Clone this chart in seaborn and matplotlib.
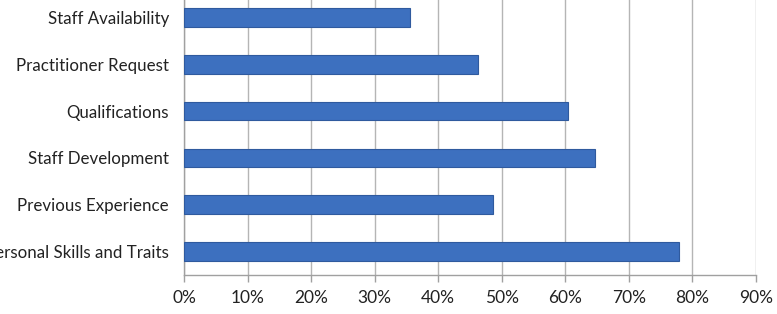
import matplotlib
matplotlib.use("Agg")
import matplotlib.pyplot as plt
import seaborn as sns
import pandas as pd
from matplotlib.ticker import FuncFormatter, FixedLocator

categories = ["Staff Availability", "Practitioner Request", "Qualifications",
              "Staff Development", "Previous Experience", "Personal Skills and Traits"]
values = [35.5, 46.3, 60.4, 64.7, 48.7, 77.9]
x_ticks = [0, 10, 20, 30, 40, 50, 60, 70, 80, 90]

sns.set_style("white")
plt.rcParams['font.family'] = ['Lato', 'DejaVu Sans']

df = pd.DataFrame({"category": categories, "value": values})

fig = plt.figure(figsize=(7.77, 3.14), dpi=100)
ax = fig.add_axes([184.3/777, 1 - 275/314, (755.7-184.3)/777, 281/314])

sns.barplot(data=df, y="category", x="value", orient="h", ax=ax,
            color="#3d70bf", width=0.4, edgecolor="#2f5a9e", linewidth=0.8,
            saturation=1, zorder=3)

ax.set_xlim(0, 90)
ax.set_ylim(5.5, -0.5)
ax.xaxis.set_major_locator(FixedLocator(x_ticks))
ax.xaxis.set_major_formatter(FuncFormatter(lambda v, p: f"{int(v)}%"))
ax.grid(axis="x", color="#b5b5b5", linewidth=1, zorder=0)
ax.grid(axis="y", visible=False)
ax.set_axisbelow(True)
ax.set_xlabel("")
ax.set_ylabel("")

for s in ["top", "right"]:
    ax.spines[s].set_visible(False)
for s in ["left", "bottom"]:
    ax.spines[s].set_color("#a0a0a0")
    ax.spines[s].set_linewidth(1)

ax.set_yticks(range(len(categories)))
ax.set_yticklabels(categories)
ax.tick_params(axis="y", length=0, pad=11, labelsize=12.2, labelcolor="#222222")
ax.set_yticks([i + 0.5 for i in range(-1, len(categories))], minor=True)
ax.tick_params(axis="y", which="minor", length=5, color="#a0a0a0", width=1)
ax.tick_params(axis="x", length=5, color="#a0a0a0", width=1, labelsize=12.5,
               labelcolor="#222222", pad=6, direction="out", bottom=True)

fig.savefig("out.png", dpi=100)
